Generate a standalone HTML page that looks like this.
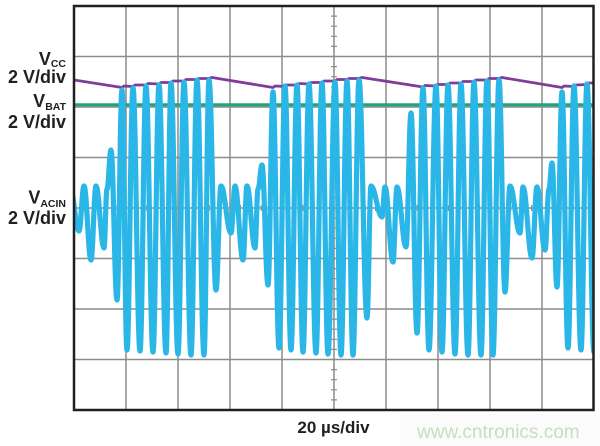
<!DOCTYPE html>
<html><head><meta charset="utf-8"><style>
html,body{margin:0;padding:0;background:#fff;}
svg{display:block;}
</style></head><body>
<svg width="600" height="446" viewBox="0 0 600 446" xmlns="http://www.w3.org/2000/svg">
<defs><clipPath id="pc"><rect x="74" y="6" width="519.5" height="404"/></clipPath></defs>
<rect x="0" y="0" width="600" height="446" fill="#fff"/>
<rect x="400" y="414" width="200" height="32" fill="#fbfbfb"/>
<g stroke="#8c8c8c" stroke-width="1.5">
<line x1="126" y1="6" x2="126" y2="410"/><line x1="178" y1="6" x2="178" y2="410"/>
<line x1="230" y1="6" x2="230" y2="410"/><line x1="282" y1="6" x2="282" y2="410"/>
<line x1="334" y1="6" x2="334" y2="410"/><line x1="386" y1="6" x2="386" y2="410"/>
<line x1="438" y1="6" x2="438" y2="410"/><line x1="490" y1="6" x2="490" y2="410"/>
<line x1="542" y1="6" x2="542" y2="410"/>
<line x1="74" y1="56.5" x2="594" y2="56.5"/><line x1="74" y1="107" x2="594" y2="107"/>
<line x1="74" y1="157.5" x2="594" y2="157.5"/><line x1="74" y1="208" x2="594" y2="208"/>
<line x1="74" y1="258.5" x2="594" y2="258.5"/><line x1="74" y1="309" x2="594" y2="309"/>
<line x1="74" y1="359.5" x2="594" y2="359.5"/>
</g>
<line x1="334" y1="6" x2="334" y2="410" stroke="#8c8c8c" stroke-width="6" stroke-dasharray="1.2 8.9" stroke-dashoffset="0.6"/>
<line x1="74" y1="208" x2="594" y2="208" stroke="#8c8c8c" stroke-width="6" stroke-dasharray="1.2 9.2" stroke-dashoffset="0.6"/>
<g clip-path="url(#pc)">
<line x1="74" y1="104.8" x2="594" y2="104.8" stroke="#21a47a" stroke-width="3.2"/>
<path fill="none" stroke="#7e3d99" stroke-width="2.8" stroke-linejoin="round" d="M74,80 L122,87.5 L124,86 L133,86.5 L135,85 L146,85 L148,83.5 L159,84 L161,82.5 L171,82.5 L173,81 L184,81 L186,79.5 L197,79.5 L199,78.5 L209,78.5 L212,77.5 L273,87.5 L275,86 L285,86.5 L287,85 L297,85 L299,83.5 L309,84 L311,82.5 L322,82.5 L324,81 L335,81 L337,79.5 L347,79.5 L349,78.5 L359,78.5 L362,77.5 L423,87 L425,85.5 L436,86 L438,84.5 L448,84.5 L450,83 L461,83 L463,81.5 L474,81.5 L476,80 L487,80 L489,78.5 L499,78.5 L502,77.5 L562,87.5 L564,86 L574,86.5 L576,85 L587,84.5 L589,83 L596,83"/>
<path fill="none" stroke="#2ab7e8" stroke-width="5.2" stroke-linejoin="round" stroke-linecap="round" d="M70,187 C73.6,187 75.4,231 79,231 C81,231 82,186 84,186 C86.8,186 88.2,260 91,260 C93,260 94,186 96,186 C99.2,186 100.8,248 104,248 C105.2,248 105.8,189 107,189 C108.6,189 109.4,150 111,150 C113.4,150 114.6,300 117,300 C119,300 120,90 122,90 C124,90 125,350 127,350 C129.4,350 130.6,88 133,88 C135.8,88 137.2,351 140,351 C142.4,351 143.6,86 146,86 C148.8,86 150.2,352 153,352 C155.4,352 156.6,85 159,85 C161.8,85 163.2,353 166,353 C168,353 169,83 171,83 C173.8,83 175.2,354 178,354 C180.4,354 181.6,82 184,82 C186.8,82 188.2,355 191,355 C193.4,355 194.6,80 197,80 C199.8,80 201.2,355 204,355 C206,355 207,80 209,80 C211.8,80 213.2,290 216,290 C218,290 219,186 221,186 C225,186 227,233 231,233 C232.6,233 233.4,186 235,186 C238.2,186 239.8,260 243,260 C244.6,260 245.4,186 247,186 C250.2,186 251.8,248 255,248 C256.2,248 256.8,189 258,189 C259.6,189 260.4,165 262,165 C264.4,165 265.6,285 268,285 C270,285 271,92 273,92 C275.4,92 276.6,348 279,348 C281.4,348 282.6,86 285,86 C287.4,86 288.6,350 291,350 C293.4,350 294.6,85 297,85 C299.4,85 300.6,352 303,352 C305.4,352 306.6,84 309,84 C311.8,84 313.2,353 316,353 C318.4,353 319.6,83 322,83 C324.4,83 325.6,354 328,354 C330.8,354 332.2,82 335,82 C337.4,82 338.6,355 341,355 C343.4,355 344.6,81 347,81 C349.4,81 350.6,355 353,355 C355.4,355 356.6,80 359,80 C362.2,80 363.8,318 367,318 C368.6,318 369.4,186 371,186 C375.4,186 377.6,217 382,217 C383.2,217 383.8,187 385,187 C388.2,187 389.8,262 393,262 C394.6,262 395.4,187 397,187 C400.6,187 402.4,247 406,247 C408,247 409,113 411,113 C413.4,113 414.6,333 417,333 C419.4,333 420.6,88 423,88 C425.4,88 426.6,350 429,350 C431.8,350 433.2,86 436,86 C438.4,86 439.6,352 442,352 C444.4,352 445.6,85 448,85 C450.8,85 452.2,354 455,354 C457.4,354 458.6,84 461,84 C463.8,84 465.2,355 468,355 C470.4,355 471.6,82 474,82 C476.8,82 478.2,355 481,355 C483.4,355 484.6,81 487,81 C489.4,81 490.6,355 493,355 C495.4,355 496.6,80 499,80 C501.4,80 502.6,292 505,292 C507,292 508,186 510,186 C514,186 516,233 520,233 C521.2,233 521.8,187 523,187 C526.6,187 528.4,258 532,258 C534,258 535,187 537,187 C540.2,187 541.8,250 545,250 C546.6,250 547.4,189 549,189 C550.2,189 550.8,163 552,163 C554,163 555,287 557,287 C559,287 560,92 562,92 C564.4,92 565.6,348 568,348 C570.4,348 571.6,86 574,86 C576.8,86 578.2,350 581,350 C583.4,350 584.6,84 587,84 C589.8,84 591.2,352 594,352"/>
</g>
<rect x="74" y="6" width="519.5" height="404" fill="none" stroke="#231f20" stroke-width="2.5"/>
<g font-family="'Liberation Sans', Arial, sans-serif" font-weight="bold" fill="#231f20">
<text x="66" y="65" font-size="18" text-anchor="end">V<tspan font-size="10.5" dy="2">CC</tspan></text>
<text x="66" y="83" font-size="18" text-anchor="end">2 V/div</text>
<text x="66" y="107" font-size="18" text-anchor="end">V<tspan font-size="10.5" dy="3">BAT</tspan></text>
<text x="66" y="128" font-size="18" text-anchor="end">2 V/div</text>
<text x="66" y="203.5" font-size="18" text-anchor="end">V<tspan font-size="10.5" dy="3.5">ACIN</tspan></text>
<text x="66" y="224" font-size="18" text-anchor="end">2 V/div</text>
<text x="333.5" y="433" font-size="17" text-anchor="middle">20 µs/div</text>
</g>
<text x="417" y="438" font-family="'Liberation Sans', Arial, sans-serif" font-size="19" fill="#c4e0bc">www.cntronics.com</text>
</svg>
</body></html>
